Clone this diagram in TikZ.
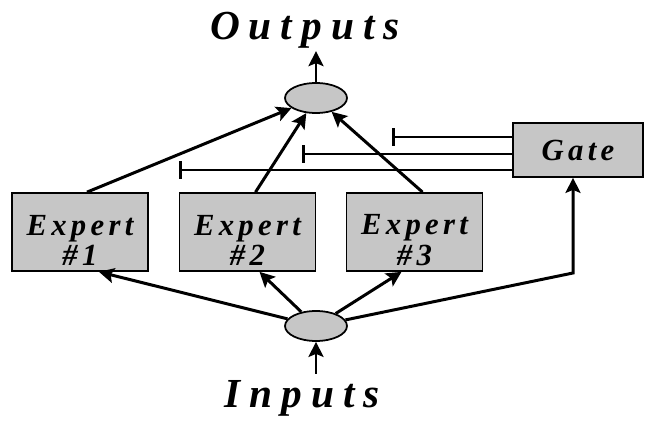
\documentclass[tikz,border=0pt]{standalone}
\usepackage{fontspec}
\setmainfont{Liberation Serif}
\usepackage{tikz}
\usetikzlibrary{calc}
\usetikzlibrary{arrows.meta}
\usetikzlibrary{shapes.geometric}
\definecolor{boxgray}{RGB}{198,198,198}
\newfontfamily\spacedfont[LetterSpace=14]{Liberation Serif}
\newfontfamily\titlefont[LetterSpace=22]{Liberation Serif}
\newcommand{\btitle}[1]{{\titlefont\bfseries\itshape\fontsize{23.5}{26}\selectfont #1}}

\begin{document}
\begin{tikzpicture}[x=0.02cm,y=-0.02cm,
		expert/.style={rectangle,draw,fill=boxgray,line width=1pt,minimum width=2.72cm,minimum height=1.56cm,align=center,font=\spacedfont\bfseries\itshape\fontsize{17.5}{17.5}\selectfont,inner sep=0pt},
		gatebox/.style={rectangle,draw,fill=boxgray,line width=1pt,minimum width=2.6cm,minimum height=1.08cm,font=\spacedfont\bfseries\itshape\fontsize{17.5}{17.5}\selectfont,inner sep=0pt},
		sumnode/.style={ellipse,draw,fill=boxgray,line width=1pt,minimum width=1.24cm,minimum height=0.6cm,inner sep=0pt},
		arr/.style={line width=1.7pt,-{Stealth[length=0.3cm,width=0.3cm,inset=0.06cm]}},
		gateline/.style={line width=1.7pt,{Bar[width=0.36cm]}-}
		]
		\useasboundingbox (0,0) rectangle (645,421);
		\node (outs) at (305,30) {\btitle{Outputs}};
		\node (ins) at (302,398) {\btitle{Inputs}};
		\node (out) [sumnode] at (316,98) {};
		\node (in) [sumnode] at (316,326) {};
		\node (e1) [expert] at (80,232) {\rule{0pt}{21pt}Expert\\\#1};
		\node (e2) [expert] at (247.5,232) {\rule{0pt}{21pt}Expert\\\#2};
		\node (e3) [expert] at (414.5,232) {\rule{0pt}{21pt}Expert\\\#3};
		\node (gate) [gatebox] at (578,150) {Gate};
		\coordinate (g1) at (392,137);
		\coordinate (g2) at (302,154);
		\coordinate (g3) at (179,170);
		\coordinate (gc) at (573,273);
		\coordinate (src) at (316,374);
		\draw[arr] (out.north) -- ++(0,-31);
		\draw[arr] (src) -- (in.south);
		\draw[arr] ($(e1.north)+(7,0)$) -- (out);
		\draw[arr] ($(e2.north)+(8,0)$) -- (out);
		\draw[arr] ($(e3.north)+(8,0)$) -- (out);
		\draw[arr] (in) -- ($(e1.south)+(19,0)$);
		\draw[arr] (in) -- ($(e2.south)+(12,0)$);
		\draw[arr] (in) -- ($(e3.south)+(-13,0)$);
		\draw[arr] (in) -- (gc) -- (gc |- gate.south);
		\draw[gateline] (g1) -- (g1 -| gate.west);
		\draw[gateline] (g2) -- (g2 -| gate.west);
		\draw[gateline] (g3) -- (g3 -| gate.west);
	\end{tikzpicture}
\end{document}
